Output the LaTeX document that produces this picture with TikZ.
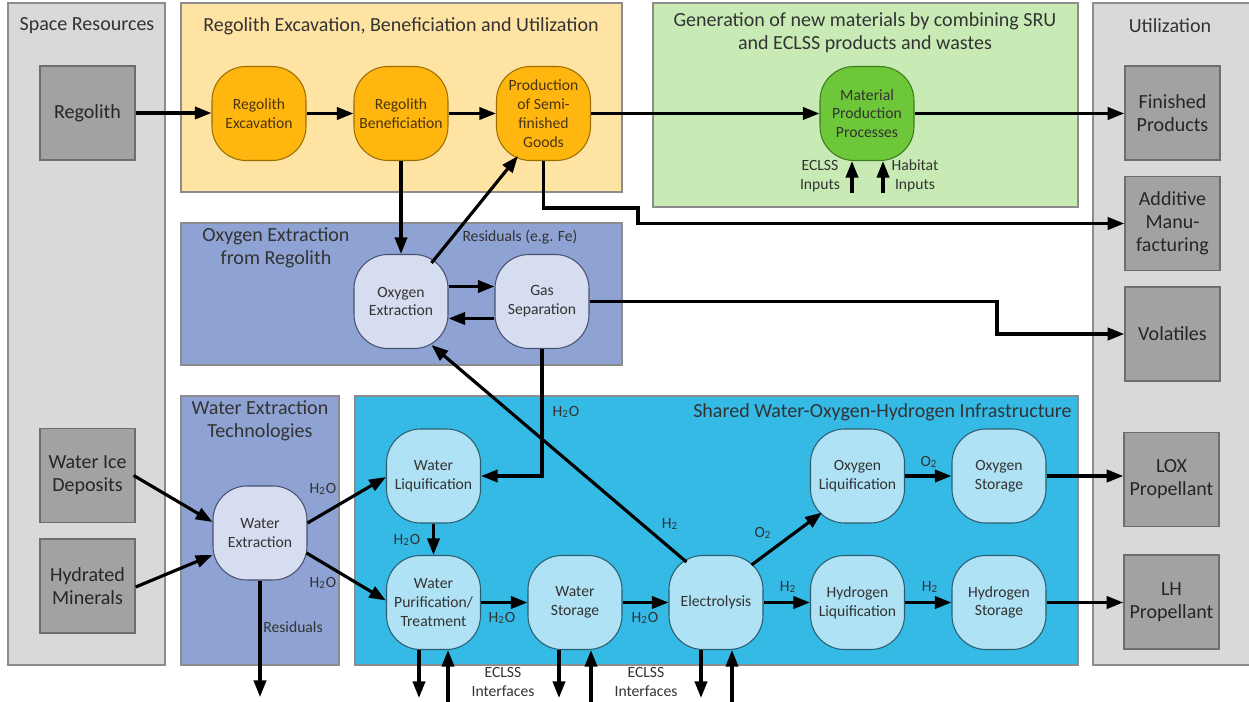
\documentclass[tikz,border=0pt]{standalone}
\usepackage{fontspec}
\setmainfont{Carlito}
\usetikzlibrary{arrows.meta}
\definecolor{cPanG}{HTML}{D9D9D9}
\definecolor{cPanB}{HTML}{8C8C8C}
\definecolor{cDark}{HTML}{A2A2A2}
\definecolor{cDarkB}{HTML}{6E6E6E}
\definecolor{cOrP}{HTML}{FFE3A3}
\definecolor{cOrN}{HTML}{FFB70F}
\definecolor{cOrB}{HTML}{9A6E00}
\definecolor{cOrT}{HTML}{4A3510}
\definecolor{cGrP}{HTML}{C8EBB5}
\definecolor{cGrN}{HTML}{6DC738}
\definecolor{cGrB}{HTML}{3E7A1E}
\definecolor{cOxP}{HTML}{8EA3D3}
\definecolor{cOxN}{HTML}{D7DDF0}
\definecolor{cOxB}{HTML}{4A5070}
\definecolor{cCyP}{HTML}{35BAE6}
\definecolor{cCyN}{HTML}{AEE2F4}
\definecolor{cCyB}{HTML}{2C5C70}
\definecolor{cTxt}{HTML}{333333}
\newcommand\fsbig{\fontsize{11.4}{13.2}\selectfont}
\newcommand\fssmall{\fontsize{8.9}{10.7}\selectfont}
\tikzset{
  panel/.style={draw=cPanB, line width=0.7pt},
  ptitle/.style={font=\fsbig, text=cTxt, align=center, inner sep=0pt},
  proc/.style={draw, rounded corners=0.68cm, minimum width=1.88cm, minimum height=1.88cm, inner sep=1pt, align=center, font=\fssmall, line width=0.6pt, text=cTxt},
  orproc/.style={proc, fill=cOrN, draw=cOrB, text=cOrT},
  grproc/.style={proc, fill=cGrN, draw=cGrB, text=cTxt},
  oxproc/.style={proc, fill=cOxN, draw=cOxB},
  cyproc/.style={proc, fill=cCyN, draw=cCyB},
  darkbox/.style={draw=cDarkB, fill=cDark, minimum width=1.9cm, minimum height=1.88cm, inner sep=1pt, align=center, font=\fsbig, text=black!85, line width=0.8pt},
  arr/.style={line width=1.8pt, -{Triangle[length=9.5pt,width=7pt]}},
  lbl/.style={font=\fssmall, text=cTxt, align=center, inner sep=0pt}
}
\begin{document}
\begin{tikzpicture}[x=0.02cm,y=-0.02cm]
\useasboundingbox (0,0) rectangle (1249,702);
\fill[white] (0,0) rectangle (1249,702);
% panels
\draw[panel, fill=cPanG] (8,3) rectangle (165,665);
\draw[panel, fill=cPanG] (1093,3) rectangle (1262,665);
\draw[panel, fill=cOrP] (181,3) rectangle (622,192);
\draw[panel, fill=cGrP] (653,3) rectangle (1078,207);
\draw[panel, fill=cOxP] (181,223) rectangle (622,365);
\draw[panel, fill=cOxP] (181,396) rectangle (339,665);
\draw[panel, fill=cCyP] (355,396) rectangle (1078,665);
% titles
\node[ptitle] (tsr) at (87,26) {Space Resources};
\node[ptitle] (tut) at (1170,26) {Utilization};
\node[ptitle] (treg) at (401,26) {Regolith Excavation, Beneficiation and Utilization};
\node[ptitle] (tgen) at (865,33) {Generation of new materials by combining SRU\\and ECLSS products and wastes};
\node[ptitle] (tox) at (276,247.5) {Oxygen Extraction\\from Regolith};
\node[ptitle] (twe) at (260,421) {Water Extraction\\Technologies};
\node[ptitle, anchor=east] (tsh) at (1072,412) {Shared Water-Oxygen-Hydrogen Infrastructure};
% dark boxes
\node[darkbox] (regolith) at (87.5,113) {Regolith};
\node[darkbox] (ice) at (87.5,475.5) {Water Ice\\Deposits};
\node[darkbox] (hyd) at (87.5,586) {Hydrated\\Minerals};
\node[darkbox] (fin) at (1172.5,113) {Finished\\Products};
\node[darkbox] (add) at (1172.5,223.5) {Additive\\Manu-\\facturing};
\node[darkbox] (vol) at (1172.5,334) {Volatiles};
\node[darkbox] (lox) at (1171.5,479.5) {LOX\\Propellant};
\node[darkbox] (lh) at (1171.5,602) {LH\\Propellant};
% process nodes
\node[orproc] (rexc) at (259,113.5) {Regolith\\Excavation};
\node[orproc] (rben) at (401,113.5) {Regolith\\Beneficiation};
\node[orproc] (prod) at (543.5,113.5) {Production\\of Semi-\\finished\\Goods};
\node[grproc] (mat) at (867,113.5) {Material\\Production\\Processes};
\node[oxproc] (oxe) at (401,301.5) {Oxygen\\Extraction};
\node[oxproc] (gas) at (542,301.5) {Gas\\Separation};
\node[oxproc] (wext) at (260,533) {Water\\Extraction};
\node[cyproc] (wliq) at (433.5,476) {Water\\Liquification};
\node[cyproc] (wpur) at (433.5,602.5) {Water\\Purification/\\Treatment};
\node[cyproc] (wsto) at (575,602.5) {Water\\Storage};
\node[cyproc] (elec) at (716,602.5) {Electrolysis};
\node[cyproc] (oliq) at (857.5,476) {Oxygen\\Liquification};
\node[cyproc] (hliq) at (857.5,602.5) {Hydrogen\\Liquification};
\node[cyproc] (osto) at (999,476) {Oxygen\\Storage};
\node[cyproc] (hsto) at (999,602.5) {Hydrogen\\Storage};
% coordinates
\coordinate (bend1) at (638,208);
\coordinate (vbend) at (997,334);
\coordinate (ein) at (852,193);
\coordinate (hin) at (883,193);
\coordinate (wres) at (260,697);
\coordinate (e1d) at (419,698);
\coordinate (e1u) at (448,705);
\coordinate (e2d) at (559,698);
\coordinate (e2u) at (591,705);
\coordinate (e3d) at (701,698);
\coordinate (e3u) at (732,705);
% connectors
\draw[arr] (regolith.east) -- (regolith.east -| rexc.west);
\draw[arr] (rexc) -- (rben);
\draw[arr] (rben) -- (prod);
\draw[arr] (prod) -- (mat);
\draw[arr] (mat) -- (mat -| fin.west);
\draw[arr] (ein) -- (ein |- mat.south);
\draw[arr] (hin) -- (hin |- mat.south);
\draw[arr] (prod.south) |- (bend1) |- (add.west);
\draw[arr] (rben.south) -- (oxe.north);
\draw[arr] ([shift={(-17,9)}]oxe.north east) -- ([shift={(22,-5)}]prod.south west);
\draw[arr] ([shift={(0,-15)}]oxe.east) -- ([shift={(0,-15)}]gas.west);
\draw[arr] ([shift={(0,17)}]gas.west) -- ([shift={(0,17)}]oxe.east);
\draw[arr] (gas.east) -| (vbend) -- (vol.west);
\draw[arr] (gas.south) |- (wliq.east);
\draw[arr] ([shift={(18,7)}]elec.north west) -- ([shift={(-17,-4)}]oxe.south east);
\draw[arr] ([shift={(-2,0)}]ice.east) -- ([shift={(0,-11)}]wext.west);
\draw[arr] ([shift={(0,1)}]hyd.east) -- ([shift={(0,22)}]wext.west);
\draw[arr] ([shift={(0,-10)}]wext.east) -- ([shift={(0,1)}]wliq.west);
\draw[arr] ([shift={(-1,20)}]wext.east) -- ([shift={(0,-2)}]wpur.west);
\draw[arr] (wext.south) -- (wres);
\draw[arr] (wliq.south) -- (wpur.north);
\draw[arr] (wpur) -- (wsto);
\draw[arr] (wsto) -- (elec);
\draw[arr] ([shift={(-12,10)}]elec.north east) -- ([shift={(12,-11)}]oliq.south west);
\draw[arr] (elec) -- (hliq);
\draw[arr] (oliq) -- (osto);
\draw[arr] (hliq) -- (hsto);
\draw[arr] (osto.east) -- (osto.east -| lox.west);
\draw[arr] (hsto.east) -- (hsto.east -| lh.west);
\draw[arr] (e1d |- wpur.south) -- (e1d);
\draw[arr] (e1u) -- (e1u |- wpur.south);
\draw[arr] (e2d |- wsto.south) -- (e2d);
\draw[arr] (e2u) -- (e2u |- wsto.south);
\draw[arr] (e3d |- elec.south) -- (e3d);
\draw[arr] (e3u) -- (e3u |- elec.south);
% labels
\node[lbl] (lres) at (520,237) {Residuals (e.g. Fe)};
\node[lbl] (lecin) at (820,176) {ECLSS\\Inputs};
\node[lbl] (lhab) at (915,176) {Habitat\\Inputs};
\node[lbl] (lgw) at (566,412) {H\textsubscript{2}O};
\node[lbl] (lh2a) at (670,524) {H\textsubscript{2}};
\node[lbl] (lo2a) at (763,533) {O\textsubscript{2}};
\node[lbl] (lh2b) at (788,587) {H\textsubscript{2}};
\node[lbl] (lw1) at (502,618) {H\textsubscript{2}O};
\node[lbl] (lw2) at (645,618) {H\textsubscript{2}O};
\node[lbl] (lw3) at (407,540) {H\textsubscript{2}O};
\node[lbl] (lw4) at (323,489) {H\textsubscript{2}O};
\node[lbl] (lw5) at (323,583) {H\textsubscript{2}O};
\node[lbl] (lwres) at (293,627) {Residuals};
\node[lbl] (lo2b) at (929,462) {O\textsubscript{2}};
\node[lbl] (lh2c) at (930,587) {H\textsubscript{2}};
\node[lbl] (lec1) at (503,682) {ECLSS\\Interfaces};
\node[lbl] (lec2) at (646,682) {ECLSS\\Interfaces};
\end{tikzpicture}
\end{document}
